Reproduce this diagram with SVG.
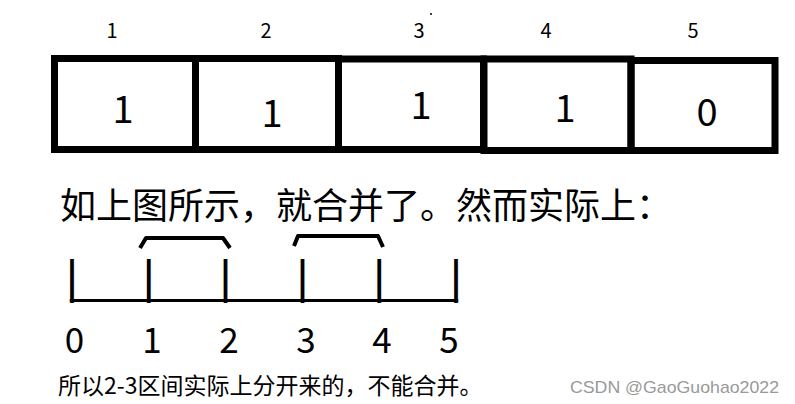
<svg xmlns="http://www.w3.org/2000/svg" width="795" height="404" viewBox="0 0 795 404">
<style>
.box{fill:none;stroke:#000;stroke-width:7}
.t{font-family:"Noto Sans CJK SC","Noto Sans",sans-serif;fill:#000;text-anchor:middle}
.idx{font-size:20px}
.val{font-size:38px}
.num{font-size:35px}
.cn{font-family:"Noto Sans CJK SC",sans-serif;fill:#000}
.br{fill:none;stroke:#000;stroke-width:4;stroke-linejoin:round}
</style>
<rect width="795" height="404" fill="#fff"/>
<g id="labels-top">
<text class="t idx" x="112" y="38">1</text>
<text class="t idx" x="266" y="38">2</text>
<text class="t idx" x="419" y="38">3</text>
<text class="t idx" x="546" y="38">4</text>
<text class="t idx" x="693" y="38">5</text>
</g>
<g id="cell1"><rect class="box" x="54.5" y="58.5" width="141" height="91"/><text class="t val" x="123" y="123">1</text></g>
<g id="cell2"><rect class="box" x="195.5" y="58.5" width="143" height="91"/><text class="t val" x="272" y="127">1</text></g>
<g id="cell3"><rect class="box" x="338.5" y="59" width="145" height="90.5"/><text class="t val" x="421" y="119">1</text></g>
<g id="cell4"><rect class="box" x="484" y="59" width="147" height="91.5"/><text class="t val" x="565" y="122">1</text></g>
<g id="cell5"><rect class="box" x="631" y="60.5" width="144" height="90"/><text class="t val" x="707" y="126">0</text></g>
<text class="cn" x="60" y="219" font-size="36">如上图所示，就合并了。然而实际上：</text>
<g id="connectors">
<path class="br" d="M140,248 L146,238 L223,238 L230,248"/>
<path class="br" d="M294,246 L298,236 L378,236 L383,247"/>
</g>
<g id="ruler">
<text font-family="Liberation Sans,sans-serif" font-size="46" x="66" y="293" textLength="396" lengthAdjust="spacing">|____|____|____|____|____|</text>
</g>
<g id="labels-bottom">
<text class="t num" x="74.5" y="353">0</text>
<text class="t num" x="152" y="353">1</text>
<text class="t num" x="229" y="353">2</text>
<text class="t num" x="306" y="353">3</text>
<text class="t num" x="382" y="353">4</text>
<text class="t num" x="449" y="353">5</text>
</g>
<text class="cn" x="58" y="394" font-size="23">所以2-3区间实际上分开来的，不能合并。</text>
<text x="570" y="393" font-family="Liberation Sans,Arial,sans-serif" font-size="17" fill="#999" textLength="209" lengthAdjust="spacingAndGlyphs">CSDN @GaoGuohao2022</text>
<circle cx="431" cy="14" r="1" fill="#000"/>
</svg>
